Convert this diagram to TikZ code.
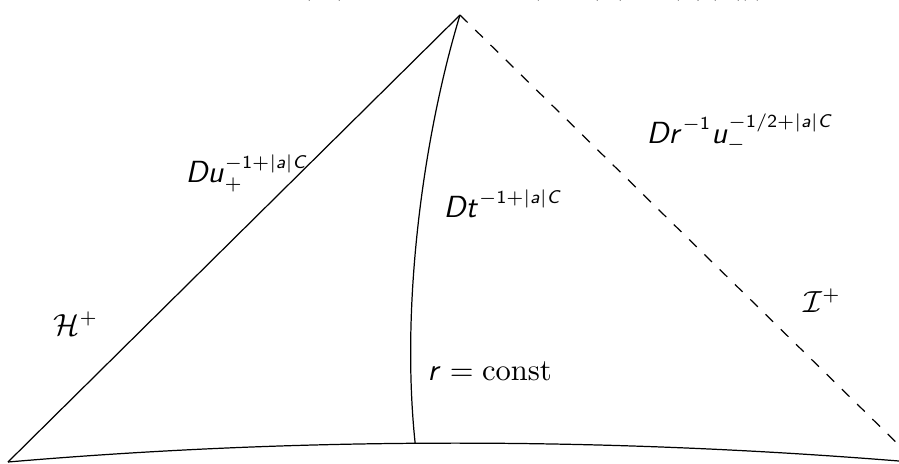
\documentclass[tikz,border=0pt]{standalone}
\usepackage{amsmath}
\usepackage{tikz}
\DeclareMathAlphabet{\mathsfit}{OT1}{cmss}{m}{sl}
\DeclareMathSizes{10}{10}{6.2}{5}
\newcommand{\si}[1]{\mathsfit{#1}}
\newcommand{\sn}[1]{\mathsf{#1}}

\begin{document}
\begin{tikzpicture}[x=0.0115cm,y=-0.0115cm,
  lbl/.style={anchor=base west, inner sep=0pt}]
\clip (0,0) rectangle (899,463);
\useasboundingbox (0,0) rectangle (899,463);
\coordinate (top) at (460,15);
\coordinate (bl) at (8,462);
\coordinate (br) at (899,461);
\coordinate (scri) at (904,450);
% boundary curve and the two null lines
\draw (bl) .. controls (300,437) and (600,437) .. (br) coordinate[pos=0.46] (rb);
\draw (bl) -- (top);
\draw[dash pattern=on 3.5pt off 3.5pt] (top) -- (scri);
% r = const curve
\draw (top) .. controls (425,130) and (400,300) .. (rb);
% labels
\node[lbl] (bound) at (305,-7) {$|\psi|\le \si{Du}_-^{-\sn{1}/\sn{2}+|\si{a}|\si{C}}(\sn{1}+|\si{a}|\,\sn{log}(\sn{1}/|\si{a}|))$};
\node[lbl] (hor) at (53,335) {$\mathcal{H}^+$};
\node[lbl] (scr) at (803,312) {$\mathcal{I}^+$};
\node[lbl] (decu) at (185,182) {$\si{Du}_+^{-\sn{1}+|\si{a}|\si{C}}$};
\node[lbl] (dect) at (443,217) {$\si{Dt}^{-\sn{1}+|\si{a}|\si{C}}$};
\node[lbl] (decr) at (646,143) {$\si{Dr}^{-\sn{1}}\si{u}_-^{-\sn{1}/\sn{2}+|\si{a}|\si{C}}$};
\node[lbl] (rc) at (427,380) {$\si{r}=\mathrm{const}$};
\end{tikzpicture}
\end{document}
